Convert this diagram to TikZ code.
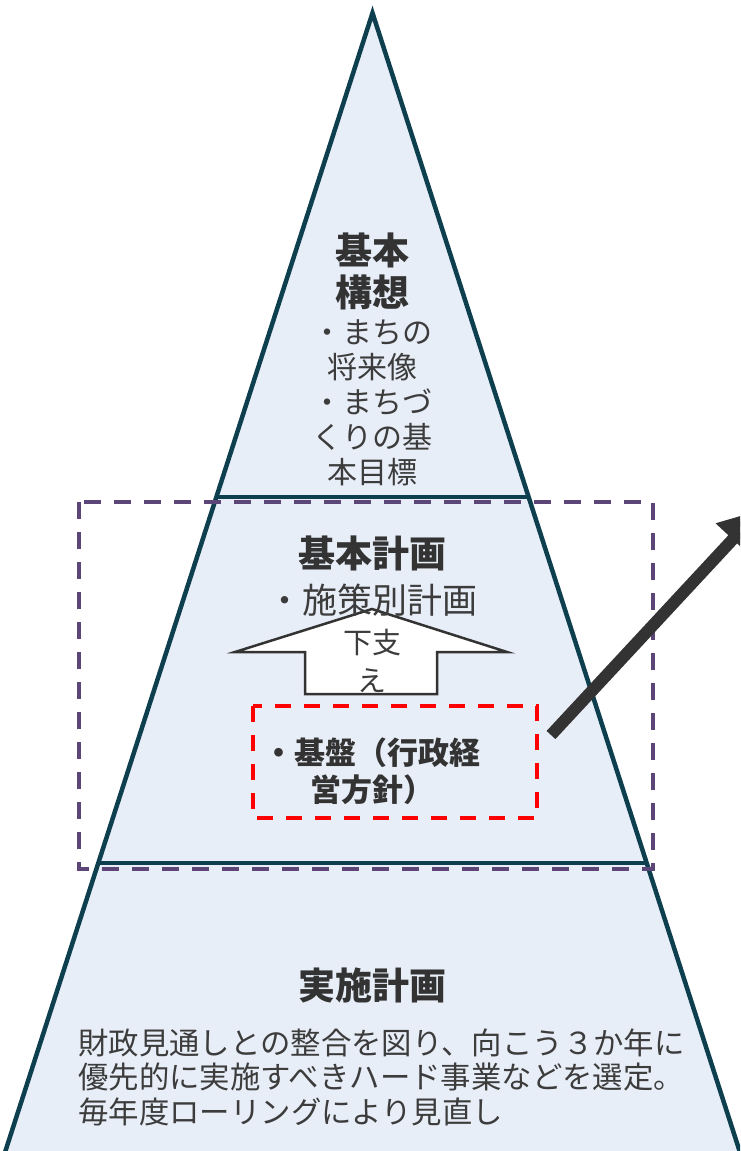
\documentclass[tikz,border=0pt]{standalone}
\usepackage{fontspec}
\newfontfamily\jp{Noto Sans CJK JP}
\usetikzlibrary{arrows.meta}
\definecolor{pfill}{HTML}{E8EEF7}
\definecolor{pedge}{HTML}{0D3F4F}
\definecolor{purp}{HTML}{5C4677}
\definecolor{txt}{HTML}{333333}
\definecolor{txtr}{HTML}{3C3C3C}
\tikzset{
  pyr/.style={draw=pedge, line width=4.5pt, line join=miter},
  title/.style={font={\jp\bfseries\fontsize{37}{42}\selectfont}, text=txt, inner sep=0pt, align=center},
  body/.style={font={\jp\fontsize{30}{35}\selectfont}, text=txtr, inner sep=0pt, align=center},
  purpbox/.style={draw=purp, line width=4pt, dash pattern=on 17pt off 13pt},
  redbox/.style={draw=red, line width=4pt, dash pattern=on 16pt off 13pt},
  blockarrow/.style={draw=txt, fill=white, line width=2.5pt, line join=miter},
  bigarrow/.style={draw=txt, line width=12pt, -{Triangle[width=44pt,length=40pt]}}
}
\begin{document}
\begin{tikzpicture}[x=1pt,y=-1pt]
\useasboundingbox (0,0) rectangle (740,1151);
\clip (0,0) rectangle (740,1151);
% pyramid
\coordinate (apex) at (372.5,13);
\coordinate (l1) at (216.4,497);
\coordinate (r1) at (528.6,497);
\coordinate (l2) at (98.3,863);
\coordinate (r2) at (646.7,863);
\coordinate (lb) at (2.2,1161);
\coordinate (rb) at (742.8,1161);
\fill[pfill] (lb) -- (apex) -- (rb) -- cycle;
\draw[pyr] (lb) -- (apex) -- (rb);
\draw[pyr] (l1) -- (r1);
\draw[pyr] (l2) -- (r2);
% dashed boxes
\draw[purpbox] (79,502) rectangle (653,869);
\draw[redbox] (253,706) rectangle (537,818);
% block arrow
\draw[blockarrow] (372,609) -- (507,652) -- (437,652) -- (437,694) -- (305,694) -- (305,652) -- (235,652) -- cycle;
\node[body, font={\jp\fontsize{29}{38}\selectfont}] (sasae) at (372,661) {下支\\え};
% texts
\node[title] (kihonkoso) at (372,271) {基本\\構想};
\node[body] (kosotxt) at (372,403) {・まちの\\将来像\\・まちづ\\くりの基\\本目標};
\node[title] (kihonkeikaku) at (372,553) {基本計画};
\node[body, font={\jp\fontsize{35}{40}\selectfont}] (shisaku) at (372,600) {・施策別計画};
\node[title, font={\jp\bfseries\fontsize{31}{37}\selectfont}] (kiban) at (372,771) {・基盤（行政経\\営方針）};
\node[title] (jisshi) at (372,985) {実施計画};
\node[body, font={\jp\fontsize{30.4}{34.5}\selectfont}, align=left, anchor=west] (jisshitxt) at (78,1077) {財政見通しとの整合を図り、向こう３か年に\\優先的に実施すべきハード事業などを選定。\\毎年度ローリングにより見直し};
% big arrow
\coordinate (a1) at (551,735);
\coordinate (a2) at (760,510);
\draw[bigarrow] (a1) -- (a2);
\end{tikzpicture}
\end{document}
